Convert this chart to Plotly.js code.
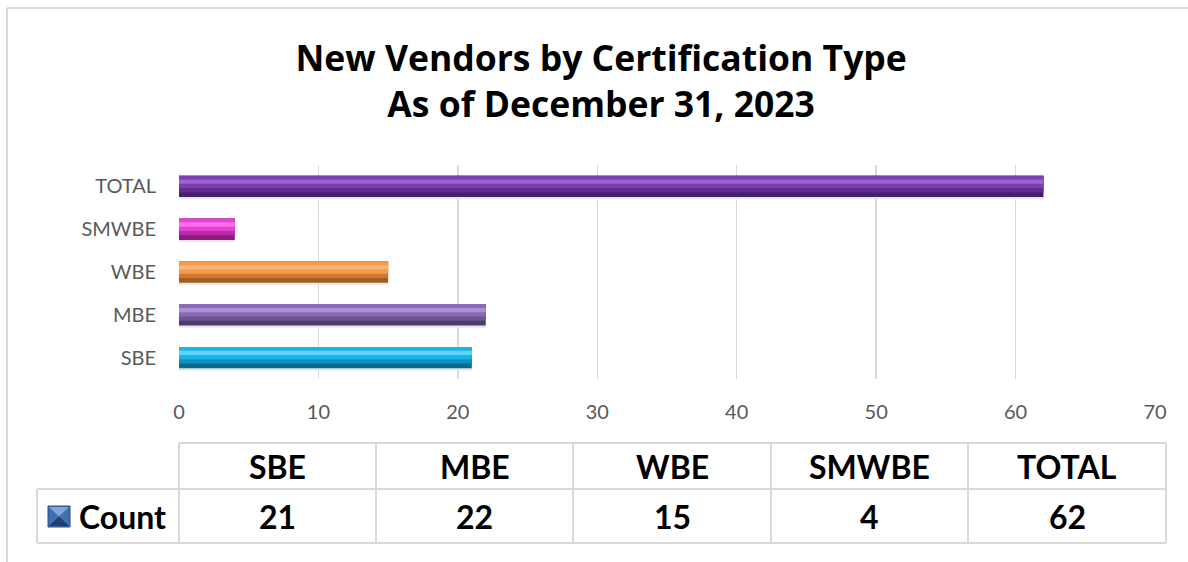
<!DOCTYPE html>
<html>
<head>
<meta charset="utf-8">
<script src="https://cdn.plot.ly/plotly-3.0.1.min.js"></script>
<style>
html,body{margin:0;padding:0;background:#fff;}
#chart{width:1188px;height:562px;}
</style>
</head>
<body>
<div id="chart"></div>
<script>
// ---- data ----
const categories = ["SBE", "MBE", "WBE", "SMWBE", "TOTAL"];
const counts = [21, 22, 15, 4, 62];
const seriesName = "Count";
const xTicks = [0, 10, 20, 30, 40, 50, 60, 70];

// ---- styles (per category) ----
const mainColors  = ["#18b6e6", "#8a6ab8", "#f5994b", "#e440d2", "#7b3db3"];
const lightColors = ["#5fd4f8", "#ab90d2", "#fbb473", "#fb70ee", "#9c62d0"];
const midDark     = ["#1190bd", "#6c5590", "#cf7a34", "#b82aa8", "#5e2c8e"];
const darkColors  = ["#0b6a90", "#4d3c6a", "#a35e1f", "#8a1b7c", "#44206a"];

const W = 1188, H = 562;
const L = 179, R = 33, T = 165, B = 183;
const plotW = W - L - R, plotH = H - T - B;
const px = x => (x - L) / plotW;
const py = y => (H - B - y) / plotH;

const font = "Lato, 'Open Sans', sans-serif";
const titleFont = "'Open Sans', Lato, sans-serif";

function bandTrace(colors, offset, width, hover) {
  return {type: "bar", orientation: "h", y: categories, x: counts, width: width, offset: offset,
    marker: {color: colors, line: {width: 0}}, hoverinfo: hover ? "x+y" : "skip",
    name: seriesName, showlegend: false};
}
const shadow = Array(categories.length).fill("#e6e6e6");
// bevelled bars built as stacked bands (bottom to top)
const traces = [
  bandTrace(shadow, -0.3, 0.06, false),
  bandTrace(darkColors, -0.25, 0.5, true),
  bandTrace(midDark, -0.14, 0.39, false),
  bandTrace(mainColors, -0.04, 0.29, false),
  bandTrace(lightColors, 0.06, 0.1, false)
];

// ---- data table below the chart ----
const colEdges = [179, 376, 573, 771, 968, 1166];
const rowTop = 443, rowMid = 489, rowBot = 543;
const grid = "#d9d9d9";
const shapes = [];
const annotations = [];
function line(x0, y0, x1, y1) {
  shapes.push({type: "line", xref: "paper", yref: "paper",
    x0: px(x0), y0: py(y0), x1: px(x1), y1: py(y1),
    line: {color: grid, width: 2}});
}
// outer chart border (top and left)
line(7, 8, 1188, 8);
line(7, 8, 7, 562);
// table
line(colEdges[0], rowTop, colEdges[5], rowTop);
line(37, rowMid, colEdges[5], rowMid);
line(37, rowBot, colEdges[5], rowBot);
line(37, rowMid, 37, rowBot);
colEdges.forEach(x => line(x, rowTop, x, rowBot));

categories.forEach((c, i) => {
  const cx = (colEdges[i] + colEdges[i + 1]) / 2;
  annotations.push({xref: "paper", yref: "paper", x: px(cx), y: py((rowTop + rowMid) / 2),
    text: "<b>" + c + "</b>", showarrow: false, xanchor: "center", yanchor: "middle",
    font: {family: font, size: 32, color: "#000"}});
  annotations.push({xref: "paper", yref: "paper", x: px(cx), y: py((rowMid + rowBot) / 2),
    text: "<b>" + counts[i] + "</b>", showarrow: false, xanchor: "center", yanchor: "middle",
    font: {family: font, size: 32, color: "#000"}});
});
// legend key + series label
shapes.push({type: "rect", xref: "paper", yref: "paper",
  x0: px(48), x1: px(70), y0: py(506), y1: py(527),
  fillcolor: "#3f6fae", line: {color: "#2a4f82", width: 1}});
shapes.push({type: "path", xref: "paper", yref: "paper",
  path: `M ${px(49)},${py(507)} L ${px(59)},${py(516.5)} L ${px(69)},${py(507)} Z`,
  fillcolor: "#7fa6d8", line: {width: 0}});
shapes.push({type: "path", xref: "paper", yref: "paper",
  path: `M ${px(49)},${py(526)} L ${px(59)},${py(516.5)} L ${px(69)},${py(526)} Z`,
  fillcolor: "#1f3f6e", line: {width: 0}});
annotations.push({xref: "paper", yref: "paper", x: px(77), y: py((rowMid + rowBot) / 2),
  text: "<b>" + seriesName + "</b>", showarrow: false, xanchor: "left", yanchor: "middle",
  font: {family: font, size: 32, color: "#000"}});

const layout = {
  width: W, height: H,
  margin: {l: L, r: R, t: T, b: B, pad: 0},
  paper_bgcolor: "#fff", plot_bgcolor: "#fff",
  barmode: "overlay",
  showlegend: false,
  title: {
    text: "<b>New Vendors by Certification Type<br>As of December 31, 2023</b>",
    x: 0.506, xanchor: "center", y: 0.874, yanchor: "bottom", yref: "container",
    font: {family: titleFont, size: 35.5, color: "#000"}
  },
  xaxis: {
    range: [0, 70], tickvals: xTicks, ticktext: xTicks.map(String),
    showgrid: true, gridcolor: grid, gridwidth: 1.5,
    zeroline: false, showline: false, ticks: "",
    ticklabelstandoff: 19,
    tickfont: {family: font, size: 20, color: "#595959"},
    fixedrange: true
  },
  yaxis: {
    type: "category", categoryorder: "array", categoryarray: categories,
    range: [-0.5, 4.5],
    showgrid: false, zeroline: false, showline: false, ticks: "",
    ticklabelstandoff: 22,
    tickfont: {family: font, size: 20, color: "#595959"},
    fixedrange: true
  },
  shapes: shapes,
  annotations: annotations
};

Plotly.newPlot("chart", traces, layout, {displayModeBar: false, staticPlot: true});
</script>
</body>
</html>
